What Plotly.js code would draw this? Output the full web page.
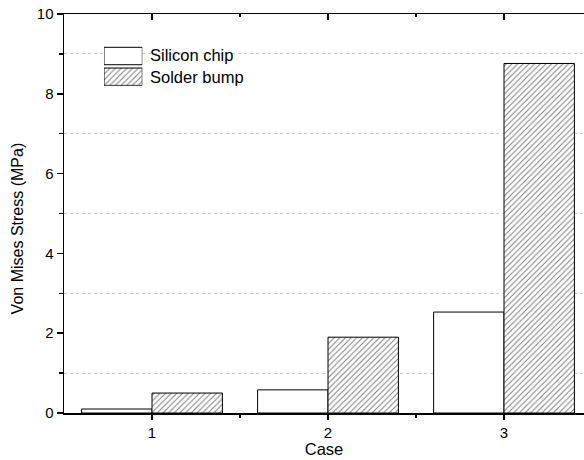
<!DOCTYPE html>
<html>
<head>
<meta charset="utf-8">
<script src="https://cdn.plot.ly/plotly-3.0.1.min.js"></script>
<style>html,body{margin:0;padding:0;background:#fff;}#chart{width:584px;height:460px;}</style>
</head>
<body>
<div id="chart"></div>
<script>
const cases = [1, 2, 3];
const caseLabels = ['1', '2', '3'];
const siliconChip = [0.10, 0.58, 2.53];
const solderBump = [0.50, 1.90, 8.76];
const seriesNames = ['Silicon chip', 'Solder bump'];
const yTicks = [0, 2, 4, 6, 8, 10];

const FONT = 'Liberation Sans, Arial, sans-serif';
const hatch = {shape: '/', fgcolor: '#000', bgcolor: '#fff', size: 4, solidity: 0.25, fillmode: 'overlay'};

const traces = [
  {type: 'bar', name: seriesNames[0], x: cases, y: siliconChip, xaxis: 'x', yaxis: 'y',
   marker: {color: '#fff', line: {color: '#000', width: 1}}, showlegend: false, hoverinfo: 'y'},
  {type: 'bar', name: seriesNames[1], x: cases, y: solderBump, xaxis: 'x', yaxis: 'y',
   marker: {color: '#fff', pattern: hatch, line: {color: '#000', width: 1}}, showlegend: false, hoverinfo: 'y'},
  // legend swatches
  {type: 'bar', x: [0], y: [17.4], base: [21.1], width: [1], offset: -0.5, xaxis: 'x2', yaxis: 'y2',
   marker: {color: '#fff', line: {color: '#000', width: 1}}, showlegend: false, hoverinfo: 'skip'},
  {type: 'bar', x: [0], y: [17.4], base: [0.4], width: [1], offset: -0.5, xaxis: 'x2', yaxis: 'y2',
   marker: {color: '#fff', pattern: hatch, line: {color: '#000', width: 1}}, showlegend: false, hoverinfo: 'skip'},
  // invisible trace for top axis
  {type: 'scatter', x: cases, y: [0, 0, 0], xaxis: 'x3', yaxis: 'y', mode: 'none', showlegend: false, hoverinfo: 'skip'}
];

const xRange = [0.5, 3.4545];
const layout = {
  width: 584, height: 460,
  margin: {l: 64, r: 0, t: 14, b: 47},
  paper_bgcolor: '#fff', plot_bgcolor: '#fff',
  font: {family: FONT, color: '#000', size: 15},
  barmode: 'group', bargap: 0.2, bargroupgap: 0,
  showlegend: false,
  xaxis: {
    range: xRange, tickvals: cases, ticktext: caseLabels,
    ticks: 'outside', ticklen: 5, tickwidth: 1.5, tickcolor: '#000',
    showline: true, linecolor: '#000', linewidth: 1.5, showgrid: false, zeroline: false,
    tickfont: {size: 15, family: FONT},
    minor: {tickvals: [1.5, 2.5], ticks: 'outside', ticklen: 3, tickwidth: 1.5, tickcolor: '#000', showgrid: false},
    title: {text: 'Case', font: {size: 16.5, family: FONT}, standoff: 1}
  },
  xaxis3: {
    overlaying: 'x', side: 'top', anchor: 'y', matches: 'x', range: xRange,
    tickvals: cases, showticklabels: false,
    ticks: 'inside', ticklen: 6, tickwidth: 1.5, tickcolor: '#000',
    showline: true, linecolor: '#000', linewidth: 1.5, showgrid: false, zeroline: false,
    minor: {tickvals: [1.5, 2.5], ticks: 'inside', ticklen: 3, tickwidth: 1.5, tickcolor: '#000', showgrid: false}
  },
  yaxis: {
    range: [0, 10], tickvals: yTicks,
    ticks: 'outside', ticklen: 6, tickwidth: 1.5, tickcolor: '#000',
    showline: true, linecolor: '#000', linewidth: 1.5, showgrid: false, zeroline: false,
    tickfont: {size: 15, family: FONT},
    minor: {tickvals: [1, 3, 5, 7, 9], ticks: 'outside', ticklen: 4, tickwidth: 1.5, tickcolor: '#000',
            showgrid: true, gridcolor: '#cfcfcf', griddash: 'dot', gridwidth: 1}
  },
  xaxis2: {domain: [0.0769, 0.1506], range: [-0.5, 0.5], visible: false, fixedrange: true},
  yaxis2: {domain: [0.82, 0.92], range: [0, 39.9], visible: false, anchor: 'x2', fixedrange: true},
  annotations: [
    {xref: 'paper', yref: 'paper', x: 0.161, y: 0.897, xanchor: 'left', yanchor: 'middle', showarrow: false,
     text: seriesNames[0], font: {size: 16.5, family: FONT, color: '#000'}},
    {xref: 'paper', yref: 'paper', x: 0.161, y: 0.843, xanchor: 'left', yanchor: 'middle', showarrow: false,
     text: seriesNames[1], font: {size: 16.5, family: FONT, color: '#000'}},
    {xref: 'paper', yref: 'paper', x: -0.089, y: 0.462, xanchor: 'center', yanchor: 'middle', showarrow: false,
     textangle: -90, text: 'Von Mises Stress (MPa)', font: {size: 16, family: FONT, color: '#000'}}
  ]
};

Plotly.newPlot('chart', traces, layout, {displayModeBar: false, staticPlot: true});
</script>
</body>
</html>
